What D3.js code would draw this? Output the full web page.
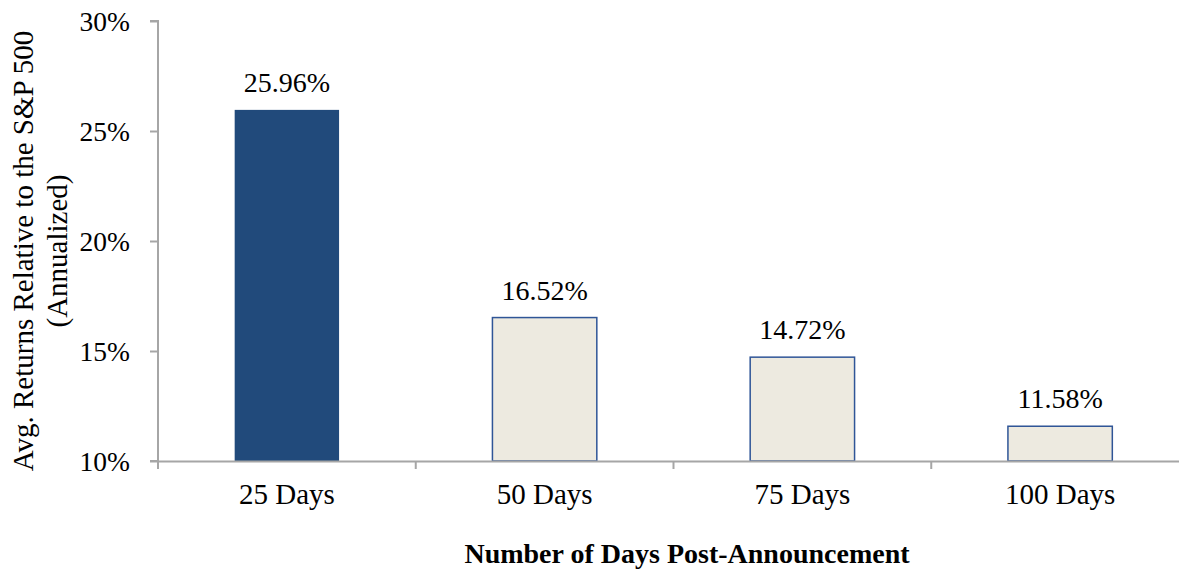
<!DOCTYPE html>
<html><head><meta charset="utf-8">
<script src="https://cdn.jsdelivr.net/npm/d3@7"></script>
<style>body{margin:0;background:#fff}svg{display:block}text{font-family:"Liberation Serif","Times New Roman",serif;fill:#000}</style>
</head><body>
<svg id="c" width="1179" height="571"></svg>
<script>
const categories = ["25 Days","50 Days","75 Days","100 Days"];
const values = [25.96, 16.52, 14.72, 11.58];
const yTicks = [10, 15, 20, 25, 30];
const highlight = [true, false, false, false];

(function () {
const svg = d3.select("#c");
const mL = 158, mR = 1189, mT = 21, mB = 461;
const x = d3.scaleBand().domain(categories).range([mL, mR]).padding(0);
const y = d3.scaleLinear().domain([10, 30]).range([mB, mT]);
const barW = x.bandwidth() * 0.405;

const axisColor = "#a6a6a6";
// y axis
const ya = svg.append("g").attr("transform", `translate(${mL},0)`)
  .call(d3.axisLeft(y).tickValues(yTicks).tickFormat(d => d + "%").tickSize(8).tickPadding(20));
ya.select(".domain").attr("stroke", axisColor).attr("stroke-width", 2).attr("d", `M-8,${mT}H0V${mB}H-8`);
ya.selectAll(".tick line").attr("stroke", axisColor).attr("stroke-width", 2);
ya.selectAll(".tick text").attr("font-size", 27.5).attr("font-family", "Liberation Serif").attr("fill", "#000").attr("dy", "0.36em");

// bars
svg.selectAll("rect.bar").data(values).join("rect").attr("class", "bar")
  .attr("x", (d, i) => x(categories[i]) + x.bandwidth() / 2 - barW / 2)
  .attr("y", d => y(d))
  .attr("width", barW)
  .attr("height", d => y(10) - y(d))
  .attr("fill", (d, i) => highlight[i] ? "#214a7b" : "#edeae0")
  .attr("stroke", (d, i) => highlight[i] ? "none" : "#2f5597")
  .attr("stroke-width", 1.5);

// x axis
const xa = svg.append("g").attr("transform", `translate(0,${mB})`)
  .call(d3.axisBottom(x).tickSize(0).tickPadding(0));
xa.select(".domain").attr("stroke", axisColor).attr("stroke-width", 2);
xa.selectAll(".tick text").attr("font-size", 29).attr("font-family", "Liberation Serif").attr("fill", "#000")
  .attr("y", 43).attr("dy", 0);
const bounds = categories.map(c => x(c)).concat([mR]);
svg.append("g").selectAll("line").data(bounds).join("line")
  .attr("x1", d => d).attr("x2", d => d).attr("y1", mB).attr("y2", mB + 8)
  .attr("stroke", axisColor).attr("stroke-width", 2);

// value labels
svg.selectAll("text.val").data(values).join("text").attr("class", "val")
  .attr("x", (d, i) => x(categories[i]) + x.bandwidth() / 2)
  .attr("y", d => y(d) - 18)
  .attr("text-anchor", "middle").attr("font-size", 28)
  .text(d => d.toFixed(2) + "%");

// y title
const yt = svg.append("text").attr("transform", `translate(33,251) rotate(-90)`)
  .attr("text-anchor", "middle").attr("font-size", 29);
yt.append("tspan").attr("x", 0).attr("dy", 0).text("Avg. Returns Relative to the S&P 500");
yt.append("tspan").attr("x", 0).attr("dy", 34).text("(Annualized)");

// x title
svg.append("text").attr("x", 687).attr("y", 563).attr("text-anchor", "middle")
  .attr("font-size", 28).attr("font-weight", "bold").text("Number of Days Post-Announcement");
})();
</script>
</body></html>
